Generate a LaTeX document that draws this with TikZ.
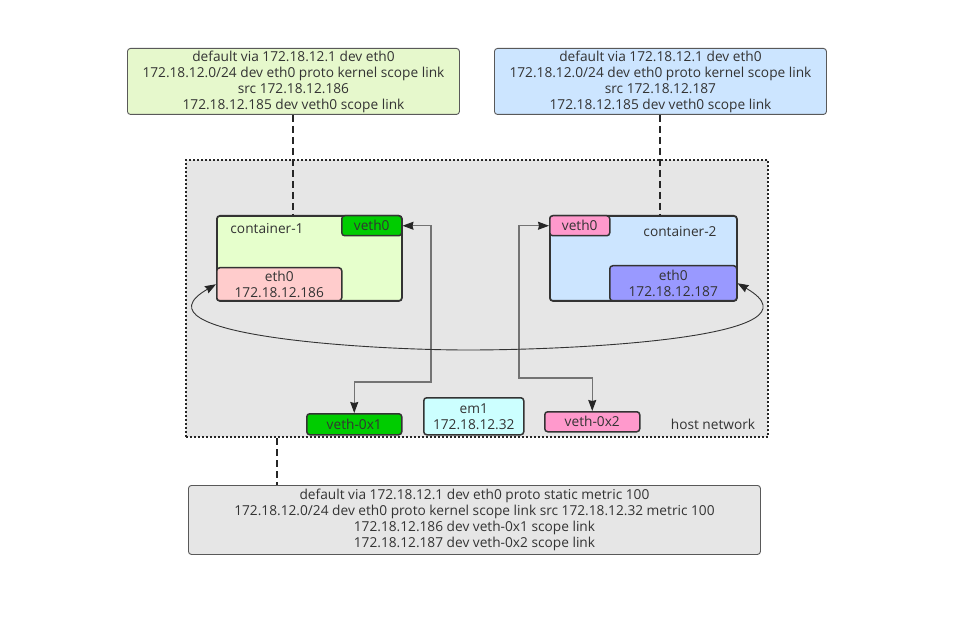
\documentclass[tikz,border=0pt]{standalone}
\usepackage{fontspec}
\setmainfont{Open Sans}
\usetikzlibrary{arrows.meta}
\definecolor{txt}{HTML}{333333}
\definecolor{lgreen}{HTML}{E6F8CC}
\definecolor{cgreen}{HTML}{E6FFCC}
\definecolor{lblue}{HTML}{CCE5FF}
\definecolor{vgreen}{HTML}{00CC00}
\definecolor{lpink}{HTML}{FFCCCC}
\definecolor{vpink}{HTML}{FF99CC}
\definecolor{lpurple}{HTML}{9999FF}
\definecolor{lcyan}{HTML}{CCFFFF}
\definecolor{hostbg}{HTML}{E6E6E6}
\begin{document}
\begin{tikzpicture}[x=1pt,y=-1pt,
  font=\fontsize{13.7}{16}\selectfont, text=txt,
  rtbox/.style={draw=black!65, line width=0.9pt, rounded corners=3pt, align=center, inner sep=0pt, anchor=north west},
  cbox/.style={draw=black!80, line width=1.8pt, rounded corners=3pt, inner sep=0pt, anchor=north west, align=center},
  ibox/.style={draw=black!80, line width=1.5pt, rounded corners=3pt, inner sep=0pt, anchor=north west, align=center},
  dashline/.style={draw=black!85, line width=2pt, dash pattern=on 7pt off 4pt},
  conn/.style={draw=black!55, line width=1.1pt, {Stealth[length=11pt,width=8pt,inset=1pt,black!85]}-{Stealth[length=11pt,width=8pt,inset=1pt,black!85]}},
  curveconn/.style={conn, draw=black!80, line width=0.9pt}
]
\useasboundingbox (0,0) rectangle (963,617);
\fill[white] (0,0) rectangle (963,617);

% host network
\node[draw=black!85, fill=hostbg, line width=2pt, dash pattern=on 2pt off 2pt, inner sep=0pt, anchor=north west,
      minimum width=582pt, minimum height=277pt] (host) at (185,159) {};
\node (hostlbl) at (713,424) {host network};

% route tables
\node[rtbox, fill=lgreen, minimum width=332pt, minimum height=66pt] (rt1) at (127,48)
  {default via 172.18.12.1 dev eth0\\172.18.12.0/24 dev eth0 proto kernel scope link\\src 172.18.12.186\\172.18.12.185 dev veth0 scope link};
\node[rtbox, fill=lblue, minimum width=332pt, minimum height=66pt] (rt2) at (494,48)
  {default via 172.18.12.1 dev eth0\\172.18.12.0/24 dev eth0 proto kernel scope link\\src 172.18.12.187\\172.18.12.185 dev veth0 scope link};
\node[rtbox, fill=hostbg, minimum width=572pt, minimum height=69pt] (rt3) at (188,485)
  {default via 172.18.12.1 dev eth0 proto static metric 100\\172.18.12.0/24 dev eth0 proto kernel scope link src 172.18.12.32 metric 100\\172.18.12.186 dev veth-0x1 scope link\\172.18.12.187 dev veth-0x2 scope link};

% containers
\node[cbox, fill=cgreen, minimum width=185pt, minimum height=85pt] (c1) at (216,215) {};
\node (c1lbl) at (267,229) {container-1};
\node[ibox, fill=vgreen, minimum width=60pt, minimum height=20pt] (veth1) at (341,215) {veth0};
\node[ibox, fill=lpink, minimum width=125pt, minimum height=33pt] (eth1) at (216,267) {eth0\\172.18.12.186};

\node[cbox, fill=lblue, minimum width=187pt, minimum height=85pt] (c2) at (549,215) {};
\node (c2lbl) at (680,232) {container-2};
\node[ibox, fill=vpink, minimum width=60pt, minimum height=20pt] (veth2) at (549,215) {veth0};
\node[ibox, fill=lpurple, minimum width=127pt, minimum height=35pt] (eth2) at (609,265) {eth0\\172.18.12.187};

% host interfaces
\node[ibox, fill=vgreen, minimum width=95pt, minimum height=21pt] (v01) at (306,413) {veth-0x1};
\node[ibox, fill=lcyan, minimum width=100pt, minimum height=37pt] (em1) at (423,397) {em1\\172.18.12.32};
\node[ibox, fill=vpink, minimum width=95pt, minimum height=20pt] (v02) at (544,411) {veth-0x2};

% dashed links
\draw[dashline] (rt1.south) -- (rt1.south |- c1.north);
\draw[dashline] (rt2.south) -- (rt2.south |- c2.north);
\coordinate (d1) at (277,0);
\draw[dashline] (host.south -| d1) -- (rt3.north -| d1);

% veth links
\coordinate (k1) at (431,382);
\draw[conn] (veth1.east) -| (k1) -| (v01.north);
\coordinate (k2) at (519,378);
\draw[conn] (veth2.west) -| (k2) -| (v02.north);

% eth0 <-> eth0 curve
\coordinate (cb) at (468,350);
\draw[curveconn] (eth1.west) to[out=-150,in=180] (cb) to[out=0,in=-30] (eth2.east);
\end{tikzpicture}
\end{document}
